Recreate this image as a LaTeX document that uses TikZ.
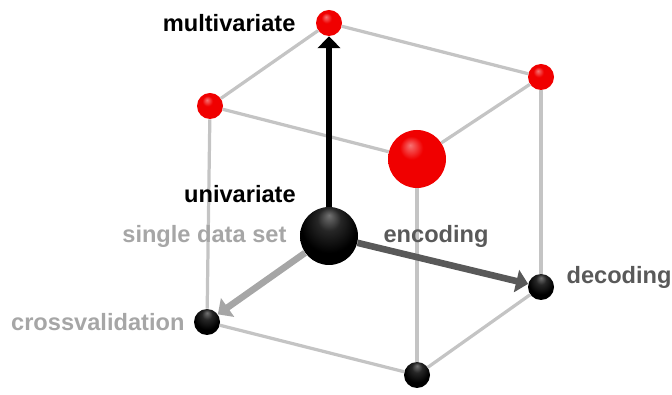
\documentclass[tikz,border=0pt]{standalone}
\usepackage{fontspec}
\setmainfont{Liberation Sans}
\usepackage{xcolor}
\definecolor{edgegray}{RGB}{196,196,196}
\definecolor{lightlabel}{RGB}{166,166,166}
\definecolor{darklabel}{RGB}{89,89,89}
\definecolor{ballred}{RGB}{240,0,0}
\usepackage{tikz}
\usetikzlibrary{
    arrows.meta,
    positioning
}

% sphere shadings
\pgfdeclareradialshading{redsphere}{\pgfqpoint{-6bp}{12bp}}{%
  color(0bp)=(ballred!55!white); color(10bp)=(ballred); color(36bp)=(ballred);
  color(50bp)=(ballred!78!black)}
\pgfdeclareradialshading{blacksphere}{\pgfqpoint{0bp}{18bp}}{%
  color(0bp)=(black!55); color(10bp)=(black!85); color(24bp)=(black);
  color(50bp)=(black)}

\tikzset{
    smallred/.style={circle, inner sep=0pt, minimum size=0.65cm, shading=redsphere},
    bigred/.style={circle, inner sep=0pt, minimum size=1.45cm, shading=redsphere},
    smallblack/.style={circle, inner sep=0pt, minimum size=0.65cm, shading=blacksphere},
    bigblack/.style={circle, inner sep=0pt, minimum size=1.45cm, shading=blacksphere},
    cubeedge/.style={draw=edgegray, line width=2.3pt},
    axisarrow/.style={line width=4.7pt, -{Triangle[length=8.5pt, width=16pt]}},
    lbl/.style={font=\fontsize{16.8}{20}\selectfont\bfseries, inner sep=0pt}
}

\begin{document}
\begin{tikzpicture}
        \useasboundingbox (0, 0) rectangle (16.8, 9.875);

        % Spheres
        \node[smallred] (top) at (8.225, 9.3) {};
        \node[smallred] (leftr) at (5.25, 7.225) {};
        \node[smallred] (rightr) at (13.525, 7.95) {};
        \node[bigred] (bigr) at (10.425, 5.9) {};
        \node[bigblack] (center) at (8.225, 3.975) {};
        \node[smallblack] (cross) at (5.175, 1.825) {};
        \node[smallblack] (decod) at (13.525, 2.7) {};
        \node[smallblack] (bottom) at (10.425, 0.5) {};

        % Cube edges
        \draw[cubeedge] (top) -- (leftr);
        \draw[cubeedge] (top) -- (rightr);
        \draw[cubeedge] (leftr) -- (bigr);
        \draw[cubeedge] (rightr) -- (bigr);
        \draw[cubeedge] (leftr) -- (cross);
        \draw[cubeedge] (rightr) -- (decod);
        \draw[cubeedge] (bigr) -- (bottom);
        \draw[cubeedge] (cross) -- (bottom);
        \draw[cubeedge] (decod) -- (bottom);

        % Axes
        \draw[axisarrow, black] (center) -- (top);
        \draw[axisarrow, darklabel] (center) -- (decod);
        \draw[axisarrow, lightlabel] (center) -- (cross);

        % Labels
        \node[lbl, text=black, left=0.5cm of top] (lmulti) {multivariate};
        \node[lbl, text=black, anchor=east] (luni) at (7.4, 5.03) {univariate};
        \node[lbl, text=lightlabel, left=0.325cm of center] (lsingle) {single data set};
        \node[lbl, text=darklabel, right=0.625cm of center] (lenc) {encoding};
        \node[lbl, text=darklabel, right=0.3cm of decod, yshift=0.25cm] (ldec) {decoding};
        \node[lbl, text=lightlabel, left=0.225cm of cross] (lcross) {crossvalidation};
    \end{tikzpicture}
\end{document}
